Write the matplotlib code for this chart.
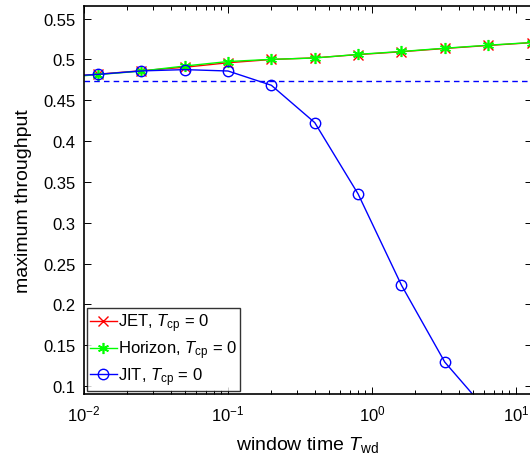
import matplotlib
matplotlib.use("Agg")
import matplotlib.pyplot as plt
from matplotlib.ticker import LogLocator, NullFormatter, FixedLocator

plt.rcParams['font.family'] = ['Liberation Sans', 'DejaVu Sans']
plt.rcParams['mathtext.fontset'] = 'custom'
plt.rcParams['mathtext.it'] = 'Liberation Sans:italic'
plt.rcParams['mathtext.rm'] = 'Liberation Sans'

# window time values (s)
window_time = [0.00625, 0.0125, 0.025, 0.05, 0.1, 0.2, 0.4, 0.8, 1.6, 3.2, 6.4, 12.8]

jet_tp = [0.4778, 0.4820, 0.4862, 0.4905, 0.4960, 0.5000, 0.5020, 0.5060, 0.5095, 0.5135, 0.5172, 0.5206]
horizon_tp = [0.4772, 0.4815, 0.4858, 0.4920, 0.4975, 0.5002, 0.5018, 0.5063, 0.5098, 0.5138, 0.5175, 0.5208]
jit_tp = [0.4785, 0.4818, 0.4860, 0.4876, 0.4859, 0.4684, 0.4227, 0.3353, 0.2236, 0.1293, 0.0680, 0.0100]
jit_limit = 0.4736

yticks = [0.1, 0.15, 0.2, 0.25, 0.3, 0.35, 0.4, 0.45, 0.5, 0.55]
ytick_labels = ["0.1", "0.15", "0.2", "0.25", "0.3", "0.35", "0.4", "0.45", "0.5", "0.55"]

fig = plt.figure(figsize=(5.3, 4.64), dpi=100)
ax = fig.add_axes([84 / 530, 69.3 / 464, 447.5 / 530, 387.6 / 464])

ax.plot(window_time, jet_tp, color='#ff0000', marker='x', ms=7, mew=1.0, lw=1.0,
        label=r'JET, $T_{\mathrm{cp}}$ = 0')
ax.plot(window_time, horizon_tp, color='#00ff00', marker=(6, 2, 0), ms=8, mew=1.2, lw=1.0,
        label=r'Horizon, $T_{\mathrm{cp}}$ = 0')
ax.plot(window_time, jit_tp, color='#0000ff', marker='o', ms=7.5, mfc='none', mew=1.0, lw=1.0,
        label=r'JIT, $T_{\mathrm{cp}}$ = 0')
ax.axhline(jit_limit, color='#0000ff', ls=(0, (4, 3)), lw=1.0)

ax.set_xscale('log')
ax.set_xlim(0.01, 12.8)
ax.set_ylim(0.0906, 0.5654)
ax.yaxis.set_major_locator(FixedLocator(yticks))
ax.set_yticklabels(ytick_labels)
ax.xaxis.set_major_locator(LogLocator(base=10, numticks=10))
ax.xaxis.set_minor_locator(LogLocator(base=10, subs=range(2, 10), numticks=20))
ax.xaxis.set_minor_formatter(NullFormatter())

ax.tick_params(which='both', direction='in', top=True, right=True, labelsize=12, width=0.7)
ax.tick_params(which='major', length=5)
ax.tick_params(which='minor', length=3)
ax.tick_params(axis='x', pad=7)
ax.tick_params(axis='y', pad=6)
for s in ax.spines.values():
    s.set_linewidth(1.2)

ax.set_xlabel(r'window time $T_{\mathrm{wd}}$', fontsize=14, labelpad=8)
ax.set_ylabel('maximum throughput', fontsize=14, labelpad=8)

leg = ax.legend(loc='lower left', fontsize=12, frameon=True, fancybox=False,
                edgecolor='black', borderaxespad=0.15, handlelength=1.6,
                handletextpad=0.1, borderpad=0.2, labelspacing=0.25)
leg.get_frame().set_linewidth(1.0)

fig.savefig('out.png', dpi=100)
